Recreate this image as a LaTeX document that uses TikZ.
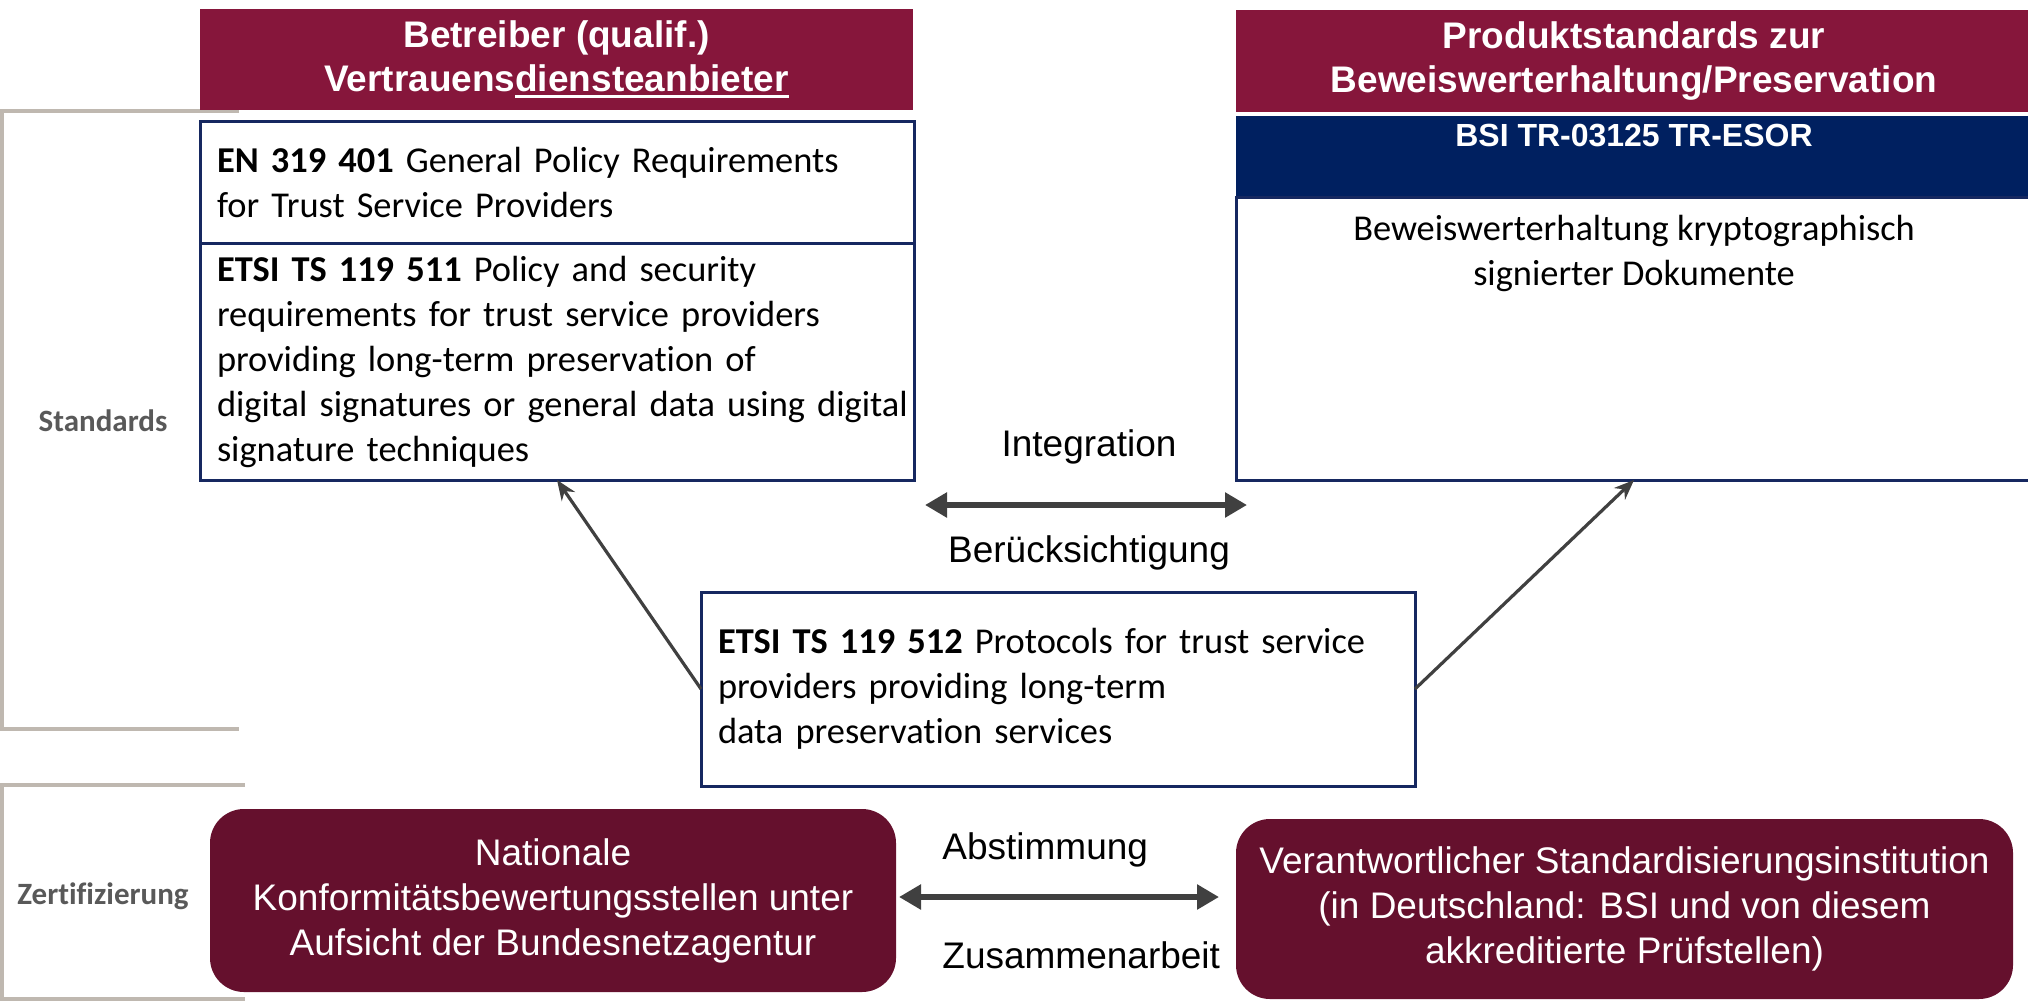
\documentclass[tikz,border=0pt]{standalone}
\usepackage{fontspec}
\setmainfont{Liberation Sans}
\newfontfamily\calibri[Ligatures=NoCommon]{Carlito}
\usetikzlibrary{
  arrows.meta,
  positioning,
}
\definecolor{hdrred}{RGB}{134, 22, 59}
\definecolor{certred}{RGB}{101, 16, 45}
\definecolor{esornavy}{RGB}{0, 32, 96}
\definecolor{boxblue}{RGB}{22, 40, 96}
\definecolor{bargray}{RGB}{191, 184, 176}
\definecolor{arrowgray}{RGB}{64, 64, 64}
\definecolor{labelgray}{RGB}{89, 89, 89}
\newcommand{\hdrul}[1]{\leavevmode\setbox0=\hbox{#1}\rlap{\copy0}\rule[-3pt]{\wd0}{1.3pt}}
\tikzset{
  hdr/.style={fill=hdrred, text=white, anchor=north west, align=center,
              outer sep=0pt, inner sep=0pt,
              font=\bfseries\fontsize{18.5}{22}\selectfont},
  stdbox/.style={draw=boxblue, line width=1.5pt, fill=white, anchor=north west,
                 outer sep=0pt, text width=340pt, inner xsep=8.5pt, align=left,
                 font=\calibri\fontsize{18.2}{22.5}\selectfont},
  certbox/.style={fill=certred, text=white, rounded corners=17pt, anchor=north west,
                  align=center, outer sep=0pt,
                  font=\fontsize{18.5}{22.5}\selectfont},
  midlbl/.style={inner sep=0pt, font=\fontsize{18.5}{22}\selectfont},
  seclbl/.style={text=labelgray, inner sep=0pt, font=\calibri\bfseries\fontsize{15.5}{18}\selectfont},
  bracket/.style={draw=bargray, line width=2pt},
  dblarrow/.style={{Triangle[length=11pt,width=12pt]}-{Triangle[length=11pt,width=12pt]},
                   draw=arrowgray, line width=3pt},
  thinarrow/.style={-{Stealth[length=10pt,width=8pt]}, draw=arrowgray, line width=1.6pt},
}

\begin{document}
\begin{tikzpicture}[x=0.5pt, y=-0.5pt]
  \useasboundingbox (0,0) rectangle (2028,1001);
  % brackets on the left
  \draw [bracket] (239,111) -- (2,111) -- (2,729) -- (239,729);
  \draw [bracket] (245,785) -- (2,785) -- (2,999) -- (245,999);
  \node [seclbl] (stdlbl) at (103,421) {Standards};
  \node [seclbl] (certlbl) at (103,896) {Zertifizierung};

  % left column
  \node [hdr, minimum width=356.5pt, minimum height=50.5pt] (tsphdr) at (200,9)
        {Betreiber (qualif.)\\Vertrauens\hdrul{diensteanbieter}};
  \node [stdbox, minimum height=61pt] (tsp1) at (200,121)
        {\textbf{EN 319 401} General Policy Requirements\\for Trust Service Providers};
  \node [stdbox, minimum height=118.5pt, below=0pt of tsp1] (tsp2)
        {\textbf{ETSI TS 119 511} Policy and security\\requirements for trust service providers\\providing long-term preservation of\\\mbox{digital signatures or general data using digital}\\signature techniques};

  % right column
  \node [hdr, minimum width=398pt, minimum height=51pt] (prodhdr) at (1236,10)
        {Produktstandards zur\\Beweiswerterhaltung/Preservation};
  \node [fill=esornavy, outer sep=0pt, minimum width=398pt, minimum height=40.5pt,
         below=2pt of prodhdr] (esor) {};
  \node [text=white, inner sep=4pt, font=\bfseries\fontsize{16}{19}\selectfont,
         below=0pt of esor.north] (esortitle) {BSI TR-03125 TR-ESOR};
  \node [draw=boxblue, line width=1.5pt, fill=white, outer sep=0pt,
         minimum width=398pt, minimum height=141.5pt, below=0pt of esor] (esorbox) {};
  \node [align=center, inner sep=9pt, font=\calibri\fontsize{18.2}{22.5}\selectfont,
         below=0pt of esorbox.north] (esortxt)
        {Beweiswerterhaltung kryptographisch\\signierter Dokumente};

  % middle
  \node [stdbox, minimum height=97pt] (tsp3) at (701,592)
        {\textbf{ETSI TS 119 512} Protocols for trust service\\providers providing long-term\\data preservation services};
  \coordinate (integL) at (925,505);
  \coordinate (integR) at (1247,505);
  \draw [dblarrow] (integL) -- (integR);
  \node [midlbl] (integ) at (1089,447) {Integration};
  \node [midlbl] (berueck) at (1089,553) {Berücksichtigung};
  \draw [thinarrow] (tsp3.west) -- (tsp2.south);
  \draw [thinarrow] (tsp3.east) -- (esorbox.south);

  % certification
  \node [certbox, minimum width=343pt, minimum height=91.5pt] (nab) at (210,809)
        {Nationale\\Konformitätsbewertungsstellen unter\\Aufsicht der Bundesnetzagentur};
  \node [certbox, minimum width=388.5pt, minimum height=90pt] (bsi) at (1236,819)
        {Verantwortlicher Standardisierungsinstitution\\(in Deutschland: BSI und von diesem\\akkreditierte Prüfstellen)};
  \coordinate (abstL) at (899,897);
  \coordinate (abstR) at (1219,897);
  \draw [dblarrow] (abstL) -- (abstR);
  \node [midlbl, anchor=west] (abst) at (942,850) {Abstimmung};
  \node [midlbl, anchor=west] (zus) at (942,955) {Zusammenarbeit};
\end{tikzpicture}
\end{document}
